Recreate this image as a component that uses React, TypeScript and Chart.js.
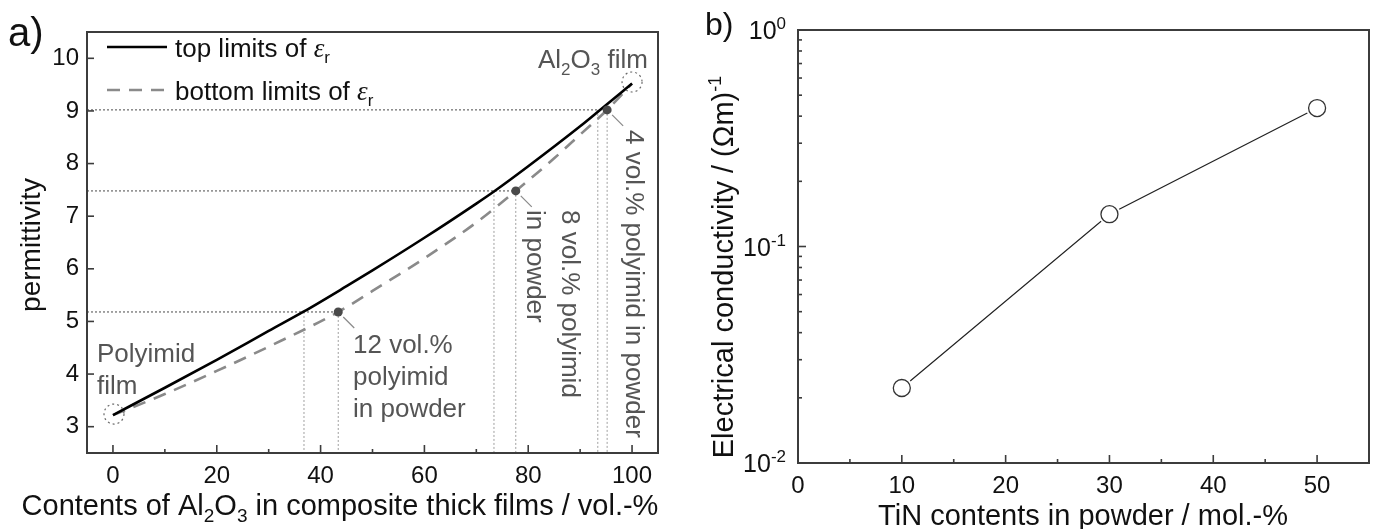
import React, { useEffect, useRef } from 'react';
import { Chart, registerables } from 'chart.js';
Chart.register(...registerables);

const FONT = '"Liberation Sans", Arial, Helvetica, sans-serif';
const SERIF = '"Liberation Serif", "DejaVu Serif", serif';

// ---------- Panel a: permittivity ----------
const topX = [0, 10, 20, 30, 36.8, 45, 50, 60, 70, 73.4, 80, 90, 93.6, 100];
const topY = [3.22, 3.74, 4.27, 4.82, 5.19, 5.67, 5.97, 6.59, 7.24, 7.47, 7.95, 8.71, 9.0, 9.52];
const botX = [0, 10, 20, 30, 43.4, 50, 60, 70, 77.6, 85, 90, 95.2, 100];
const botY = [3.22, 3.62, 4.06, 4.52, 5.18, 5.58, 6.2, 6.88, 7.48, 8.1, 8.55, 9.02, 9.52];
const refLevels = [5.18, 7.48, 9.02];
const refPointX = [43.4, 77.6, 95.2];
const refCrossX = [36.8, 73.4, 93.4];
const endX = [0.2, 100];
const endY = [3.24, 9.55];
const xTicksA = [0, 20, 40, 60, 80, 100];
const xMinorA = [10, 30, 50, 70, 90];
const yTicksA = [3, 4, 5, 6, 7, 8, 9, 10];

// ---------- Panel b: conductivity ----------
const tinX = [10, 30, 50];
const sigma = [0.0222, 0.141, 0.436];
const xTicksB = [0, 10, 20, 30, 40, 50];
const xMinorB = [5, 15, 25, 35, 45, 55];
const yDecadesB = [0.01, 0.1, 1];
const yDecadeExp = ['-2', '-1', '0'];
const yMinorB = [0.02, 0.03, 0.04, 0.05, 0.06, 0.07, 0.08, 0.09, 0.2, 0.3, 0.4, 0.5, 0.6, 0.7, 0.8, 0.9];

type Seg = { t: string; s: number; dy?: number; it?: boolean; fam?: string };

function rich(
  ctx: CanvasRenderingContext2D,
  segs: Seg[],
  x: number,
  y: number,
  align: 'left' | 'center' | 'right',
  rot = 0,
  color = '#111'
) {
  ctx.save();
  ctx.translate(x, y);
  ctx.rotate(rot);
  ctx.fillStyle = color;
  ctx.textBaseline = 'alphabetic';
  ctx.textAlign = 'left';
  const fontOf = (g: Seg) => `${g.it ? 'italic ' : ''}${g.s}px ${g.fam ?? FONT}`;
  let w = 0;
  for (const g of segs) {
    ctx.font = fontOf(g);
    w += ctx.measureText(g.t).width;
  }
  let cx = align === 'left' ? 0 : align === 'center' ? -w / 2 : -w;
  for (const g of segs) {
    ctx.font = fontOf(g);
    ctx.fillText(g.t, cx, g.dy ?? 0);
    cx += ctx.measureText(g.t).width;
  }
  ctx.restore();
}

function line(ctx: CanvasRenderingContext2D, x1: number, y1: number, x2: number, y2: number) {
  ctx.beginPath();
  ctx.moveTo(x1, y1);
  ctx.lineTo(x2, y2);
  ctx.stroke();
}

const pts = (xs: number[], ys: number[]) => xs.map((x, i) => ({ x, y: ys[i] }));

function makeChartA(canvas: HTMLCanvasElement) {
  const refH = refLevels.map((lv, i) => ({
    label: 'refH' + i,
    data: [{ x: -5, y: lv }, { x: refPointX[i], y: lv }],
    borderColor: '#4a4a4a',
    borderWidth: 1,
    borderDash: [2, 2],
    pointRadius: 0,
    order: 6,
  }));
  const refV = refLevels.flatMap((lv, i) => [
    {
      label: 'refVc' + i,
      data: [{ x: refCrossX[i], y: lv }, { x: refCrossX[i], y: 2.5 }],
      borderColor: '#a0a0a0',
      borderWidth: 1,
      borderDash: [2, 2],
      pointRadius: 0,
      order: 6,
    },
    {
      label: 'refVp' + i,
      data: [{ x: refPointX[i], y: lv }, { x: refPointX[i], y: 2.5 }],
      borderColor: '#a0a0a0',
      borderWidth: 1,
      borderDash: [2, 2],
      pointRadius: 0,
      order: 6,
    },
  ]);

  const decor = {
    id: 'decorA',
    afterDatasetsDraw(chart: any) {
      const ctx: CanvasRenderingContext2D = chart.ctx;
      const idxEnds = chart.data.datasets.findIndex((d: any) => d.label === 'ends');
      const idxPts = chart.data.datasets.findIndex((d: any) => d.label === 'points');
      ctx.save();
      ctx.strokeStyle = '#6a6a6a';
      ctx.lineWidth = 1.2;
      ctx.setLineDash([2, 3]);
      for (const el of chart.getDatasetMeta(idxEnds).data) {
        ctx.beginPath();
        ctx.arc(el.x, el.y, 10, 0, Math.PI * 2);
        ctx.stroke();
      }
      ctx.setLineDash([]);
      ctx.strokeStyle = '#8a8a8a';
      for (const el of chart.getDatasetMeta(idxPts).data) {
        line(ctx, el.x + 5, el.y + 5, el.x + 16, el.y + 16);
      }
      ctx.restore();
    },
    afterDraw(chart: any) {
      const ctx: CanvasRenderingContext2D = chart.ctx;
      const ca = chart.chartArea;
      const sx = chart.scales.x;
      const sy = chart.scales.y;
      ctx.save();
      ctx.strokeStyle = '#3c3c3c';
      ctx.lineWidth = 2;
      ctx.strokeRect(ca.left, ca.top, ca.right - ca.left, ca.bottom - ca.top);
      ctx.lineWidth = 1.6;
      for (const v of xTicksA) {
        const p = sx.getPixelForValue(v);
        line(ctx, p, ca.bottom, p, ca.bottom - 8);
      }
      for (const v of xMinorA) {
        const p = sx.getPixelForValue(v);
        line(ctx, p, ca.bottom, p, ca.bottom - 4);
      }
      for (const v of yTicksA) {
        const p = sy.getPixelForValue(v);
        line(ctx, ca.left, p, ca.left + 7, p);
      }
      // legend
      ctx.strokeStyle = '#000';
      ctx.lineWidth = 2.6;
      line(ctx, 107, 47, 167, 47);
      ctx.strokeStyle = '#8a8a8a';
      ctx.setLineDash([13, 9]);
      line(ctx, 107, 90, 167, 90);
      ctx.setLineDash([]);
      const eps = (t: string): Seg[] => [
        { t, s: 26 },
        { t: 'ε', s: 27, it: true, fam: SERIF },
        { t: 'r', s: 17, dy: 6 },
      ];
      rich(ctx, eps('top limits of '), 175, 57, 'left');
      rich(ctx, eps('bottom limits of '), 175, 100, 'left');
      // panel label
      rich(ctx, [{ t: 'a)', s: 40 }], 8, 46, 'left');
      // axis titles
      rich(ctx, [{ t: 'permittivity', s: 28 }], 40, 245, 'center', -Math.PI / 2);
      rich(
        ctx,
        [
          { t: 'Contents of Al', s: 29 },
          { t: '2', s: 19, dy: 7 },
          { t: 'O', s: 29 },
          { t: '3', s: 19, dy: 7 },
          { t: ' in composite thick films / vol.-%', s: 29 },
        ],
        340,
        515,
        'center'
      );
      // annotations
      const g = '#555';
      rich(ctx, [{ t: 'Polyimid', s: 26 }], 97, 362, 'left', 0, g);
      rich(ctx, [{ t: 'film', s: 26 }], 97, 394, 'left', 0, g);
      rich(ctx, [{ t: '12 vol.%', s: 26 }], 353, 353, 'left', 0, g);
      rich(ctx, [{ t: 'polyimid', s: 26 }], 353, 385, 'left', 0, g);
      rich(ctx, [{ t: 'in powder', s: 26 }], 353, 417, 'left', 0, g);
      rich(ctx, [{ t: '8 vol.% polyimid', s: 26 }], 562, 210, 'left', Math.PI / 2, g);
      rich(ctx, [{ t: 'in powder', s: 26 }], 527, 210, 'left', Math.PI / 2, g);
      rich(ctx, [{ t: '4 vol.% polyimid in powder', s: 26 }], 626, 130, 'left', Math.PI / 2, g);
      rich(
        ctx,
        [
          { t: 'Al', s: 26 },
          { t: '2', s: 17, dy: 7 },
          { t: 'O', s: 26 },
          { t: '3', s: 17, dy: 7 },
          { t: ' film', s: 26 },
        ],
        538,
        68,
        'left',
        0,
        g
      );
      ctx.restore();
    },
  };

  return new Chart(canvas, {
    type: 'line',
    data: {
      datasets: [
        {
          label: 'top',
          data: pts(topX, topY),
          borderColor: '#000',
          borderWidth: 2.6,
          pointRadius: 0,
          cubicInterpolationMode: 'monotone',
          order: 1,
        },
        {
          label: 'bottom',
          data: pts(botX, botY),
          borderColor: '#8a8a8a',
          borderWidth: 2.6,
          borderDash: [13, 9],
          pointRadius: 0,
          cubicInterpolationMode: 'monotone',
          order: 2,
        },
        ...refH,
        ...refV,
        {
          label: 'points',
          data: pts(refPointX, refLevels),
          showLine: false,
          pointRadius: 4.5,
          pointBackgroundColor: '#4a4a4a',
          pointBorderWidth: 0,
          order: 0,
        },
        {
          label: 'ends',
          data: pts(endX, endY),
          showLine: false,
          pointRadius: 0,
          order: 9,
        },
      ] as any,
    },
    options: {
      animation: false,
      responsive: false,
      devicePixelRatio: 1,
      events: [],
      layout: { autoPadding: false, padding: { top: 32, right: 32, left: 0, bottom: 0 } },
      plugins: { legend: { display: false }, tooltip: { enabled: false } },
      scales: {
        x: {
          type: 'linear',
          min: -5,
          max: 105,
          afterBuildTicks: (s: any) => {
            s.ticks = xTicksA.map((v) => ({ value: v }));
          },
          afterFit: (s: any) => {
            s.height = 76;
          },
          grid: { display: false, drawTicks: false },
          border: { display: false },
          ticks: { font: { family: FONT, size: 24 }, color: '#111', padding: 9, maxRotation: 0, autoSkip: false },
        },
        y: {
          type: 'linear',
          min: 2.5,
          max: 10.5,
          afterBuildTicks: (s: any) => {
            s.ticks = yTicksA.map((v) => ({ value: v }));
          },
          afterFit: (s: any) => {
            s.width = 87;
          },
          grid: { display: false, drawTicks: false },
          border: { display: false },
          ticks: { font: { family: FONT, size: 24 }, color: '#111', padding: 8, autoSkip: false },
        },
      },
    } as any,
    plugins: [decor],
  });
}

function makeChartB(canvas: HTMLCanvasElement) {
  const decor = {
    id: 'decorB',
    afterDraw(chart: any) {
      const ctx: CanvasRenderingContext2D = chart.ctx;
      const ca = chart.chartArea;
      const sx = chart.scales.x;
      const sy = chart.scales.y;
      ctx.save();
      ctx.strokeStyle = '#3c3c3c';
      ctx.lineWidth = 2;
      ctx.strokeRect(ca.left, ca.top, ca.right - ca.left, ca.bottom - ca.top);
      ctx.lineWidth = 1.6;
      for (const v of xTicksB) {
        const p = sx.getPixelForValue(v);
        line(ctx, p, ca.bottom, p, ca.bottom - 8);
      }
      for (const v of xMinorB) {
        const p = sx.getPixelForValue(v);
        line(ctx, p, ca.bottom, p, ca.bottom - 4);
      }
      for (const v of yDecadesB) {
        const p = sy.getPixelForValue(v);
        line(ctx, ca.left, p, ca.left + 8, p);
      }
      for (const v of yMinorB) {
        const p = sy.getPixelForValue(v);
        line(ctx, ca.left, p, ca.left + 4, p);
      }
      yDecadesB.forEach((v, i) => {
        const p = sy.getPixelForValue(v);
        rich(
          ctx,
          [
            { t: '10', s: 25 },
            { t: yDecadeExp[i], s: 17, dy: -10 },
          ],
          ca.left - 12,
          p + 9,
          'right'
        );
      });
      rich(ctx, [{ t: 'b)', s: 32 }], 15, 35, 'left');
      rich(
        ctx,
        [
          { t: 'Electrical conductivity / (Ωm)', s: 29 },
          { t: '-1', s: 18, dy: -12 },
        ],
        43,
        267,
        'center',
        -Math.PI / 2
      );
      rich(ctx, [{ t: 'TiN contents in powder / mol.-%', s: 29 }], 393, 525, 'center');
      ctx.restore();
    },
  };

  return new Chart(canvas, {
    type: 'line',
    data: {
      datasets: [
        {
          label: 'line',
          data: pts(tinX, sigma),
          borderColor: '#222',
          borderWidth: 1.2,
          pointRadius: 0,
          order: 3,
        },
        {
          label: 'gap',
          data: pts(tinX, sigma),
          showLine: false,
          pointRadius: 11,
          pointBackgroundColor: '#fff',
          pointBorderWidth: 0,
          order: 2,
        },
        {
          label: 'σ',
          data: pts(tinX, sigma),
          showLine: false,
          pointRadius: 8.5,
          pointBackgroundColor: '#fff',
          pointBorderColor: '#333',
          pointBorderWidth: 1.3,
          order: 1,
        },
      ] as any,
    },
    options: {
      animation: false,
      responsive: false,
      devicePixelRatio: 1,
      events: [],
      layout: { autoPadding: false, padding: { top: 30, right: 5, left: 0, bottom: 0 } },
      plugins: { legend: { display: false }, tooltip: { enabled: false } },
      scales: {
        x: {
          type: 'linear',
          min: 0,
          max: 55,
          afterBuildTicks: (s: any) => {
            s.ticks = xTicksB.map((v) => ({ value: v }));
          },
          afterFit: (s: any) => {
            s.height = 66;
          },
          grid: { display: false, drawTicks: false },
          border: { display: false },
          ticks: { font: { family: FONT, size: 24 }, color: '#111', padding: 9, maxRotation: 0, autoSkip: false },
        },
        y: {
          type: 'logarithmic',
          min: 0.01,
          max: 1,
          afterBuildTicks: (s: any) => {
            s.ticks = yDecadesB.map((v) => ({ value: v }));
          },
          afterFit: (s: any) => {
            s.width = 108;
          },
          grid: { display: false, drawTicks: false },
          border: { display: false },
          ticks: { display: false },
        },
      },
    } as any,
    plugins: [decor],
  });
}

export default function App() {
  const refA = useRef<HTMLCanvasElement>(null);
  const refB = useRef<HTMLCanvasElement>(null);
  useEffect(() => {
    const a = makeChartA(refA.current!);
    const b = makeChartB(refB.current!);
    return () => {
      a.destroy();
      b.destroy();
    };
  }, []);
  return (
    <div style={{ position: 'absolute', left: 0, top: 0, width: 1374, height: 529, background: '#fff', overflow: 'hidden' }}>
      <canvas ref={refA} width={690} height={529} style={{ position: 'absolute', left: 0, top: 0 }} />
      <canvas ref={refB} width={684} height={529} style={{ position: 'absolute', left: 690, top: 0 }} />
    </div>
  );
}
